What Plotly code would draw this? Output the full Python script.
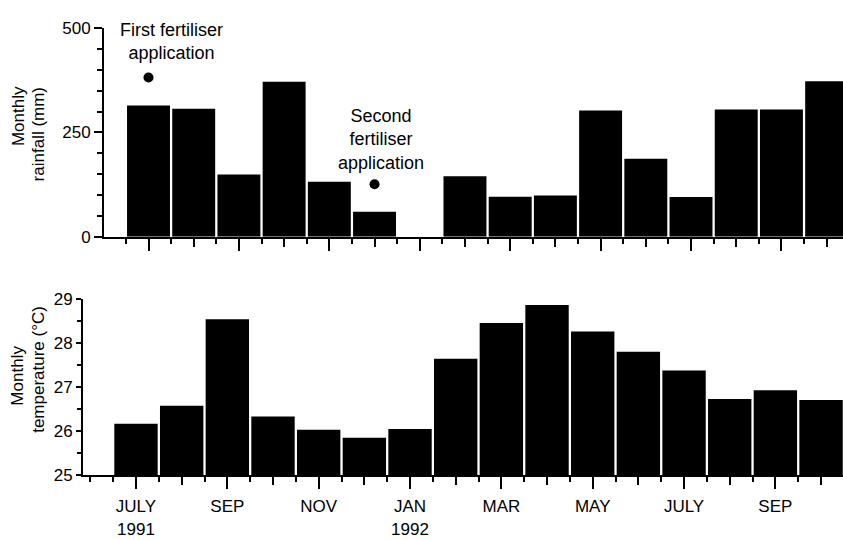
import plotly.graph_objects as go

# Month index 0 = July 1991 ... 15 = October 1992
months = list(range(16))
rainfall_mm = [315, 307, 149, 372, 132, 60, 0, 145, 96, 99, 303, 187, 95, 305, 305, 373]
temperature_c = [26.17, 26.58, 28.55, 26.33, 26.03, 25.85, 26.05, 27.65, 28.46,
                 28.87, 28.27, 27.81, 27.38, 26.73, 26.93, 26.71]
tick_months = list(range(16))
tick_text = ["JULY<br>1991", "", "SEP", "", "NOV", "", "JAN<br>1992", "",
             "MAR", "", "MAY", "", "JULY", "", "SEP", ""]
labelled_months = [0, 2, 4, 6, 8, 10, 12, 14]

# Fertiliser applications: month index and marker height (mm)
fert_month = [0, 5]
fert_level = [382, 126]
fert_text = ["First fertiliser<br>application", "Second<br>fertiliser<br>application"]

W, H = 843, 540
FONT = "Liberation Sans, Arial, sans-serif"

fig = go.Figure()

fig.add_trace(go.Bar(x=months, y=rainfall_mm, marker=dict(color="black", line=dict(width=0)),
                     xaxis="x", yaxis="y", showlegend=False, hoverinfo="skip"))
fig.add_trace(go.Scatter(x=fert_month, y=fert_level, mode="markers",
                         marker=dict(color="black", size=10),
                         xaxis="x", yaxis="y", showlegend=False, hoverinfo="skip"))
fig.add_trace(go.Bar(x=months, y=temperature_c, base=0, marker=dict(color="black", line=dict(width=0)),
                     xaxis="x2", yaxis="y2", showlegend=False, hoverinfo="skip"))
# carriers for the long-tick overlay axes
fig.add_trace(go.Scatter(x=[None], y=[None], xaxis="x3", yaxis="y", showlegend=False, hoverinfo="skip"))
fig.add_trace(go.Scatter(x=[None], y=[None], xaxis="x4", yaxis="y2", showlegend=False, hoverinfo="skip"))

top_dom = [104 / W, 1.0]
bot_dom = [83 / W, 1.0]
top_range = [(104 - 148.5) / 45.21, (843 - 148.5) / 45.21]
bot_range = [(83 - 136) / 45.67, (843 - 136) / 45.67]

common_x = dict(showgrid=False, zeroline=False, linecolor="black", linewidth=2,
                ticks="outside", tickcolor="black", tickwidth=2, fixedrange=True)

fig.update_layout(
    width=W, height=H,
    margin=dict(l=0, r=0, t=0, b=0),
    paper_bgcolor="white", plot_bgcolor="white",
    bargap=0.05,
    font=dict(family=FONT, size=17, color="black"),
    xaxis=dict(domain=top_dom, range=top_range, anchor="y",
               tickvals=tick_months, ticklen=8, showticklabels=False,
               minor=dict(dtick=0.5, tick0=0.5, ticklen=5, tickcolor="black", tickwidth=2, ticks="outside"),
               **common_x),
    xaxis3=dict(domain=top_dom, range=top_range, anchor="y", overlaying="x",
                tickvals=labelled_months, ticklen=13, showticklabels=False,
                showline=False, showgrid=False, zeroline=False, ticks="outside",
                tickcolor="black", tickwidth=2),
    xaxis2=dict(domain=bot_dom, range=bot_range, anchor="y2",
                tickvals=tick_months, ticktext=tick_text, ticklen=8,
                tickfont=dict(size=17), ticklabelstandoff=7,
                minor=dict(dtick=0.5, tick0=0.5, ticklen=5, tickcolor="black", tickwidth=2, ticks="outside"),
                **common_x),
    xaxis4=dict(domain=bot_dom, range=bot_range, anchor="y2", overlaying="x2",
                tickvals=labelled_months, ticklen=13, showticklabels=False,
                showline=False, showgrid=False, zeroline=False, ticks="outside",
                tickcolor="black", tickwidth=2),
    yaxis=dict(domain=[(H - 236) / H, (H - 20) / H], range=[0, 500], anchor="x",
               tickvals=[0, 250, 500], ticklen=8, tickfont=dict(size=17),
               minor=dict(dtick=50, ticklen=5, tickcolor="black", tickwidth=2, ticks="outside"),
               showgrid=False, zeroline=False, linecolor="black", linewidth=2,
               ticks="outside", tickcolor="black", tickwidth=2),
    yaxis2=dict(domain=[(H - 483) / H, (H - 301) / H], range=[25, 29], anchor="x2",
                tickvals=[25, 26, 27, 28, 29], ticklen=5, tickfont=dict(size=17),
                minor=dict(dtick=0.5, ticklen=4, tickcolor="black", tickwidth=2, ticks="outside"),
                showgrid=False, zeroline=False, linecolor="black", linewidth=2,
                ticks="outside", tickcolor="black", tickwidth=2),
)

# Fertiliser labels above their markers
shifts = [(23, 12), (6, 9)]
for m, lvl, txt, (dx, dy) in zip(fert_month, fert_level, fert_text, shifts):
    fig.add_annotation(x=m, y=lvl, xref="x", yref="y", text=txt, showarrow=False,
                       xanchor="center", yanchor="bottom", xshift=dx, yshift=dy,
                       font=dict(size=18), align="center")

# Rotated axis titles, one annotation per line
for txt, px, py in [("Monthly", 18, 111), ("rainfall (mm)", 38, 130),
                    ("Monthly", 18, 380), ("temperature (°C)", 39, 374)]:
    fig.add_annotation(x=px / W, y=1 - py / H, xref="paper", yref="paper", text=txt,
                       showarrow=False, textangle=-90, xanchor="center", yanchor="middle",
                       font=dict(size=17))

fig.write_html("out.html")
